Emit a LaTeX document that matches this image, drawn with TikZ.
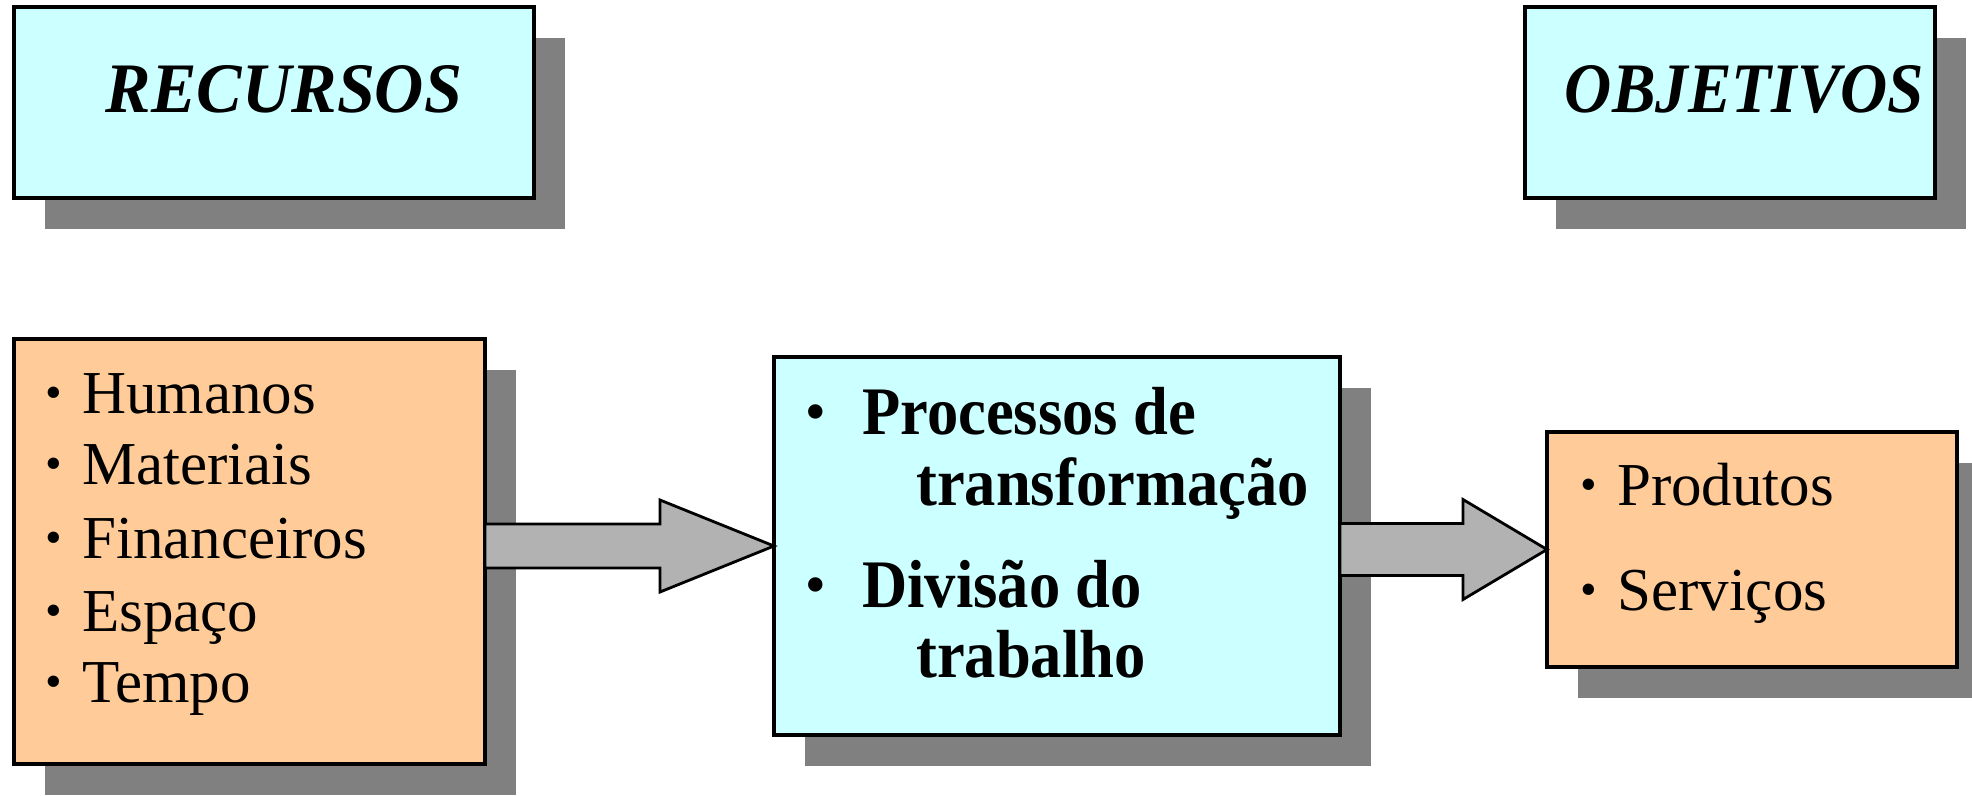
\documentclass[tikz,border=0pt]{standalone}
\usepackage{fontspec}
\setmainfont{Liberation Serif}
\usetikzlibrary{calc,shadows}
\definecolor{boxcyan}{HTML}{CCFFFF}
\definecolor{boxorange}{HTML}{FFCC99}
\definecolor{shgray}{HTML}{808080}
\definecolor{arrgray}{HTML}{B2B2B2}
\newcommand{\bulat}[2]{\llap{\makebox[#1][c]{\raisebox{#2}{\scalebox{0.78}{•}}}}}
\begin{document}
\begin{tikzpicture}[x=1pt,y=-1pt,
  box/.style={draw=black, line width=3.5pt, inner sep=0pt, outer sep=0pt,
    drop shadow={shadow xshift=31pt, shadow yshift=-31pt, fill=shgray, opacity=1}},
  cyanbox/.style={box, fill=boxcyan},
  orangebox/.style={box, fill=boxorange},
  titletext/.style={anchor=base, inner sep=0pt, font=\fontsize{71}{71}\selectfont\bfseries\itshape},
  itemtext/.style={anchor=base west, inner sep=0pt, font=\fontsize{61}{61}\selectfont},
  bolditem/.style={anchor=base west, inner sep=0pt, font=\fontsize{68}{68}\selectfont\bfseries},
  fatarrow/.style={fill=arrgray, draw=black, line width=2.8pt, line join=miter}
]
\useasboundingbox (0,0) rectangle (1972,795);

% boxes
\node[cyanbox, minimum width=520pt, minimum height=191pt] (rec) at (274,102.5) {};
\node[cyanbox, minimum width=410pt, minimum height=191pt] (obj) at (1730,102.5) {};
\node[orangebox, minimum width=471pt, minimum height=425pt] (L) at (249.5,551.5) {};
\node[cyanbox, minimum width=566pt, minimum height=378pt] (M) at (1057,546) {};
\node[orangebox, minimum width=410pt, minimum height=235pt] (R) at (1752,549.5) {};

% titles
\node[titletext] (rect) at (284,112) {\scalebox{0.96}[1]{RECURSOS}};
\node[titletext] (objt) at (1744.5,112) {\scalebox{0.92}[1]{OBJETIVOS}};

% left items
\node[itemtext] (l1) at (82,413) {\bulat{56pt}{4.5pt}Humanos};
\node[itemtext] (l2) at (82,484) {\bulat{56pt}{4.5pt}Materiais};
\node[itemtext] (l3) at (82,558) {\bulat{56pt}{4.5pt}Financeiros};
\node[itemtext] (l4) at (82,631) {\bulat{56pt}{4.5pt}Espaço};
\node[itemtext] (l5) at (82,702) {\bulat{56pt}{4.5pt}Tempo};

% middle items
\node[bolditem] (m1) at (862,434) {\bulat{92pt}{5pt}\scalebox{0.92}[1]{Processos de}};
\node[bolditem] (m2) at (916,505) {\scalebox{0.92}[1]{transformação}};
\node[bolditem] (m3) at (862,607) {\bulat{92pt}{5pt}\scalebox{0.92}[1]{Divisão do}};
\node[bolditem] (m4) at (916,677) {\scalebox{0.92}[1]{trabalho}};

% right items
\node[itemtext] (r1) at (1617,505) {\bulat{56pt}{4.5pt}Produtos};
\node[itemtext] (r2) at (1617,610) {\bulat{56pt}{4.5pt}Serviços};

% arrow 1
\coordinate (a1t) at ($(M.west)+(0,-22)$);
\coordinate (a1b) at ($(M.west)+(0,22)$);
\draw[fatarrow] (L.east |- a1t) -- ($(M.west)+(-114,-22)$) -- ($(M.west)+(-114,-46)$)
  -- (M.west) -- ($(M.west)+(-114,46)$) -- ($(M.west)+(-114,22)$) -- (L.east |- a1b) -- cycle;

% arrow 2
\coordinate (a2t) at ($(R.west)+(0,-26)$);
\coordinate (a2b) at ($(R.west)+(0,26)$);
\draw[fatarrow] (M.east |- a2t) -- ($(R.west)+(-84,-26)$) -- ($(R.west)+(-84,-50)$)
  -- (R.west) -- ($(R.west)+(-84,50)$) -- ($(R.west)+(-84,26)$) -- (M.east |- a2b) -- cycle;
\end{tikzpicture}
\end{document}
